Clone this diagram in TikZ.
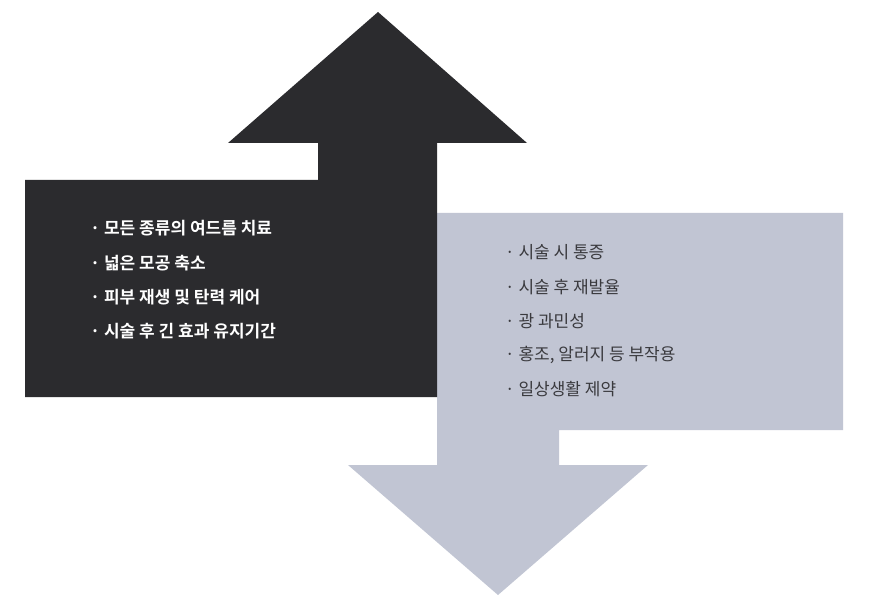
\documentclass[tikz,border=0pt]{standalone}
\usepackage{fontspec}
\newfontfamily\kr{Noto Sans CJK KR}
\newfontfamily\krb{Noto Sans CJK KR Bold}
\definecolor{darkfill}{HTML}{2B2B2E}
\definecolor{grayfill}{HTML}{C1C5D3}
\definecolor{graytext}{HTML}{3A3A3E}
\begin{document}
\begin{tikzpicture}[x=1pt,y=-1pt,
  dtext/.style={anchor=west,text=white,font=\krb\fontsize{17}{20}\selectfont,inner sep=0pt},
  gtext/.style={anchor=west,text=graytext,font=\kr\fontsize{17}{20}\selectfont,inner sep=0pt}]
\useasboundingbox (0,0) rectangle (869,609);
\fill[white] (0,0) rectangle (869,609);
\fill[grayfill] (437,213) -- (843,213) -- (843,430) -- (559,430) -- (559,465) -- (648,465)
  -- (498,595) -- (348,465) -- (437,465) -- cycle;
\fill[darkfill] (25,180) -- (318,180) -- (318,143) -- (228,143) -- (378,12) -- (527,143)
  -- (437,143) -- (437,397) -- (25,397) -- cycle;
\node[dtext] (d1) at (90,228) {· 모든 종류의 여드름 치료};
\node[dtext] (d2) at (90,263) {· 넓은 모공 축소};
\node[dtext] (d3) at (90,297) {· 피부 재생 및 탄력 케어};
\node[dtext] (d4) at (90,331) {· 시술 후 긴 효과 유지기간};
\node[gtext] (g1) at (505,252) {· 시술 시 통증};
\node[gtext] (g2) at (505,287) {· 시술 후 재발율};
\node[gtext] (g3) at (505,321) {· 광 과민성};
\node[gtext] (g4) at (505,355) {· 홍조, 알러지 등 부작용};
\node[gtext] (g5) at (505,389) {· 일상생활 제약};
\end{tikzpicture}
\end{document}
